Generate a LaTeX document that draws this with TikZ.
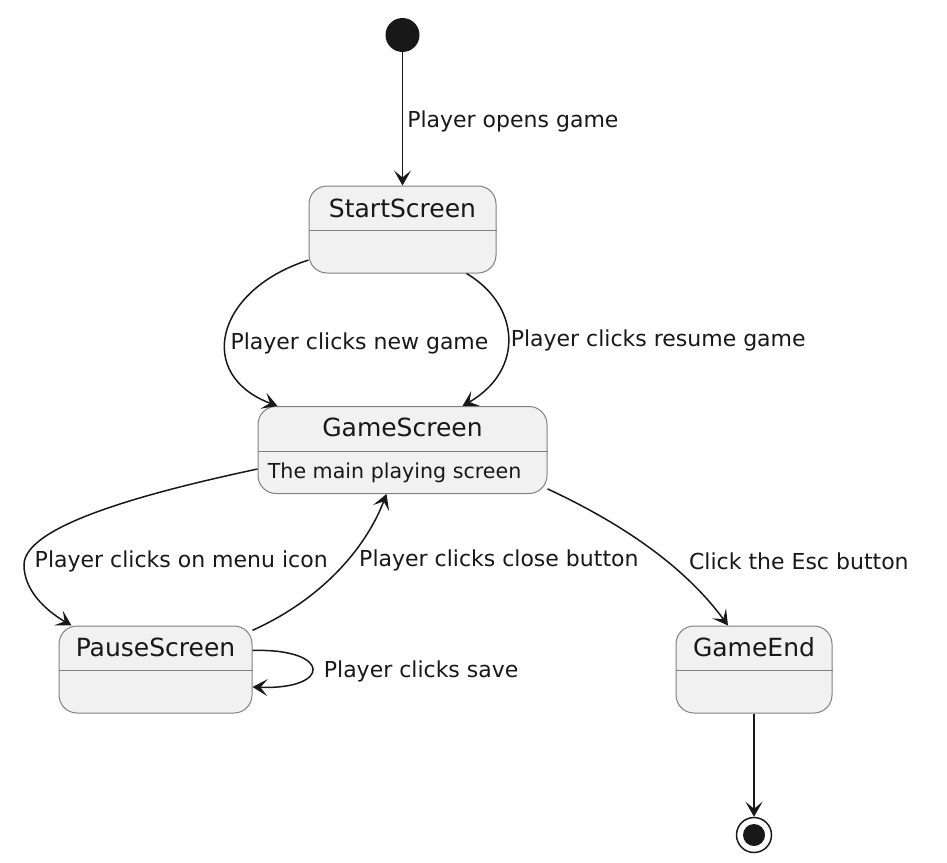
\documentclass[tikz,border=0pt]{standalone}
\usepackage{fontspec}
\setmainfont{DejaVu Sans}
\usetikzlibrary{arrows.meta,positioning}
\definecolor{statefill}{HTML}{F1F1F1}
\definecolor{lineclr}{HTML}{181818}
\begin{document}
\begin{tikzpicture}[x = 0.5pt, y = -0.5pt,
		state/.style = {draw=black!50, line width=0.5pt, fill=statefill, rounded corners=9pt, inner sep=0pt, minimum height=43.5pt},
		title/.style = {font=\fontsize{12.5}{15}\selectfont, text=lineclr, inner sep=0pt},
		body/.style = {font=\fontsize{10.3}{12}\selectfont, text=lineclr, inner sep=0pt},
		lbl/.style = {font=\fontsize{11}{13}\selectfont, text=lineclr, inner sep=2pt, yshift=-1.3pt},
		edge/.style = {draw=lineclr, line width=0.75pt, -{Stealth[length=7.5pt, width=8.5pt, inset=3.5pt]}}]
		\useasboundingbox (0,0) rectangle (947,862);
		% pseudo states
		\node [circle, fill=lineclr, minimum size=17pt, inner sep=0pt] (init) at (402.5,35) {};
		\node [circle, draw=lineclr, line width=0.75pt, minimum size=17.5pt, inner sep=0pt] (final) at (754,835) {};
		\node [circle, fill=lineclr, minimum size=11pt, inner sep=0pt] (final-in) at (final) {};
		% states
		\node [state, minimum width=93.5pt] (start) at (402.5,229.5) {};
		\node [state, minimum width=144.5pt] (game) at (402.5,450) {};
		\node [state, minimum width=96.5pt] (pause) at (155.5,669.5) {};
		\node [state, minimum width=78pt] (gend) at (754,669.5) {};
		\foreach \s in {start, game, pause, gend}
			\draw [black!50, line width=0.5pt] ([yshift=-22.5pt]\s.north west) -- ([yshift=-22.5pt]\s.north east);
		\node [title] (start-t) at ([yshift=-11.5pt]start.north) {StartScreen};
		\node [title] (game-t) at ([yshift=-10.5pt]game.north) {GameScreen};
		\node [title] (pause-t) at ([yshift=-11pt]pause.north) {PauseScreen};
		\node [title] (gend-t) at ([yshift=-11pt]gend.north) {GameEnd};
		\node [body, anchor=base west] (game-b) at ([xshift=5pt, yshift=-14pt]game.west) {The main playing screen};
		% transitions
		\draw [edge] (init) -- (start) node [lbl, right, pos=0.5] (l-open) {Player opens game};
		\draw [edge] (start.198) .. controls (215,290) and (195,375) .. ([xshift=10pt]game.north west) node [lbl, right, pos=0.55] (l-new) {Player clicks new game};
		\draw [edge] ([xshift=32pt]start.south) .. controls (520,305) and (525,370) .. ([xshift=30pt]game.north) node [lbl, right, pos=0.5, xshift=-1pt] (l-resume) {Player clicks resume game};
		\draw [edge] ([yshift=-9.5pt]game.west) .. controls (150,492) and (24,525) .. (24,565) node [lbl, right, xshift=3pt, yshift=3pt] (l-menu) {Player clicks on menu icon} .. controls (24,590) and (45,610) .. ([xshift=6.5pt]pause.north west);
		\draw [edge] (pause.22) .. controls (320,600) and (365,550) .. ([xshift=-8pt]game.south) node [lbl, right, pos=0.6, xshift=2.5pt] (l-close) {Player clicks close button};
		\draw [edge] ([yshift=9.5pt]pause.east) .. controls (332,648) and (332,690) .. ([yshift=-8.75pt]pause.east) node [lbl, right, pos=0.5, xshift=3.5pt] (l-save) {Player clicks save};
		\draw [edge] (game.-15) .. controls (610,518) and (680,560) .. ([xshift=-13pt]gend.north) node [lbl, right, pos=0.62, xshift=9.5pt, yshift=1pt] (l-esc) {Click the Esc button};
		\draw [edge] (gend) -- (final);
	\end{tikzpicture}
\end{document}
